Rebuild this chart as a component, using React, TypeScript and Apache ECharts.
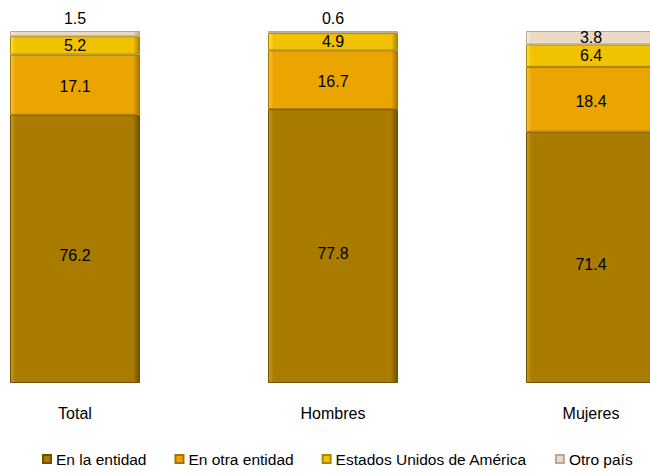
import React, { useEffect, useRef } from "react";
import * as echarts from "echarts";

const categories = ["Total", "Hombres", "Mujeres"];
const seriesNames = ["En la entidad", "En otra entidad", "Estados Unidos de América", "Otro país"];
const enLaEntidad = [76.2, 77.8, 71.4];
const enOtraEntidad = [17.1, 16.7, 18.4];
const estadosUnidos = [5.2, 4.9, 6.4];
const otroPais = [1.5, 0.6, 3.8];
const otroPaisLabelInside = [false, false, true];

const colors = ["#A97C00", "#EBA500", "#F0C200", "#EAD9C4"];
const edgeLight = ["#C89A20", "#F6C040", "#FFE040", "#F6EDE0"];
const edgeDark = ["#6E5000", "#A87400", "#A88600", "#B8A894"];
const labelOffsets = [7, 2, 0, 0];

const FONT = "Liberation Sans, Arial, sans-serif";

export default function App() {
  const ref = useRef<HTMLDivElement>(null);
  useEffect(() => {
    if (!ref.current) return;
    const chart = echarts.init(ref.current, undefined, { renderer: "svg" });
    const values = [enLaEntidad, enOtraEntidad, estadosUnidos, otroPais];
    const series = values.map((vals, si) => ({
      name: seriesNames[si],
      type: "bar",
      stack: "s",
      barWidth: 130,
      itemStyle: {
        color: {
          type: "linear",
          x: 0,
          y: 0,
          x2: 1,
          y2: 0,
          colorStops: [
            { offset: 0, color: edgeLight[si] },
            { offset: 0.04, color: colors[si] },
            { offset: 0.95, color: colors[si] },
            { offset: 1, color: edgeDark[si] },
          ],
        },
        borderColor: edgeDark[si],
        borderWidth: 1,
      },
      label: {
        show: true,
        position: "inside",
        offset: [0, labelOffsets[si]],
        color: "#000",
        fontSize: 16,
        fontFamily: FONT,
        formatter: (p: any) => p.value.toFixed(1),
      },
      data: vals.map((v, i) =>
        si === 3 && !otroPaisLabelInside[i]
          ? { value: v, label: { position: "top", distance: 5 } }
          : { value: v }
      ),
    }));
    chart.setOption({
      animation: false,
      color: colors,
      grid: { left: 0, top: 31, width: 774, height: 352, containLabel: false },
      legend: {
        bottom: 2,
        left: 91,
        itemWidth: 8,
        itemHeight: 8,
        itemGap: 28,
        icon: "rect",
        textStyle: { fontSize: 15.5, color: "#000", fontFamily: FONT, padding: [0, 0, 0, 0] },
        data: seriesNames.map((n, i) => ({ name: n, itemStyle: { color: colors[i] } })),
      },
      xAxis: {
        type: "category",
        data: categories,
        axisLine: { show: false },
        axisTick: { show: false },
        axisLabel: { margin: 22, fontSize: 16, color: "#000", fontFamily: FONT },
      },
      yAxis: {
        type: "value",
        min: 0,
        max: 100,
        show: false,
        splitLine: { show: false },
      },
      series,
    });
    return () => chart.dispose();
  }, []);
  return (
    <div style={{ width: 650, height: 474, position: "absolute", left: 0, top: 0, overflow: "hidden" }}>
      <div ref={ref} style={{ width: 774, height: 474, position: "absolute", left: -54, top: 0 }} />
    </div>
  );
}
